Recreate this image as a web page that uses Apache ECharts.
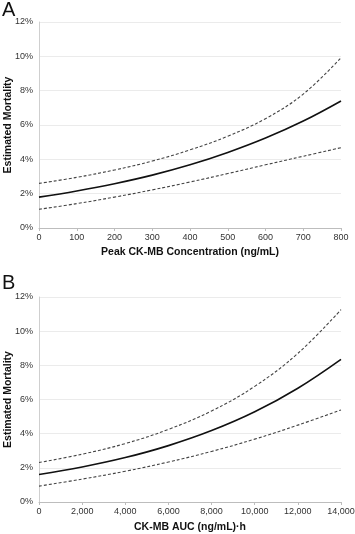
<!DOCTYPE html>
<html><head><meta charset="utf-8">
<script src="https://cdn.jsdelivr.net/npm/echarts@6/dist/echarts.min.js"></script>
<style>html,body{margin:0;padding:0;background:#fff}#c{width:355px;height:534px}</style>
</head><body><div id="c"></div>
<script>
// Panel A: Peak CK-MB concentration (ng/mL) vs estimated mortality (%)
const xA = [0, 100, 200, 300, 400, 500, 600, 700, 800];
const estA = [1.80, 2.16, 2.58, 3.08, 3.68, 4.40, 5.24, 6.23, 7.40];
const upA = [2.60, 2.95, 3.38, 3.90, 4.55, 5.35, 6.37, 7.80, 9.92];
const loA = [1.09, 1.42, 1.80, 2.22, 2.68, 3.17, 3.68, 4.18, 4.68];
// Panel B: CK-MB AUC (ng/mL)·h vs estimated mortality (%)
const xB = [0, 2000, 4000, 6000, 8000, 10000, 12000, 14000];
const estB = [1.61, 2.05, 2.60, 3.30, 4.18, 5.28, 6.66, 8.35];
const upB = [2.31, 2.80, 3.42, 4.25, 5.33, 6.77, 8.70, 11.26];
const loB = [0.93, 1.34, 1.80, 2.34, 2.96, 3.68, 4.50, 5.39];
const yTicks = [0, 2, 4, 6, 8, 10, 12];
const panelLabels = ['A', 'B'];
const xTitles = ['Peak CK-MB Concentration (ng/mL)', 'CK-MB AUC (ng/mL)·h'];
const yTitle = 'Estimated Mortality';

const font = 'Liberation Sans, Arial, sans-serif';
const pair = (xs, ys) => xs.map((x, i) => [x, ys[i]]);

const grids = [
  {left: 39, right: 14, top: 22, height: 206, outerBoundsMode: 'none', containLabel: false},
  {left: 39, right: 14, top: 297, height: 205, outerBoundsMode: 'none', containLabel: false}
];
function xAxis(idx, max, interval, fmt, gap) {
  return {
    type: 'value', gridIndex: idx, min: 0, max: max, interval: interval,
    name: xTitles[idx], nameLocation: 'middle', nameGap: gap,
    nameTextStyle: {fontFamily: font, fontSize: 10.5, fontWeight: 'bold', color: '#111'},
    axisLine: {lineStyle: {color: '#bdbdbd'}},
    axisTick: {show: true, length: 3, lineStyle: {color: '#bdbdbd'}},
    axisLabel: {fontFamily: font, fontSize: 9, color: '#333', margin: 5, formatter: fmt},
    splitLine: {show: false}
  };
}
function yAxis(idx) {
  return {
    type: 'value', gridIndex: idx, min: yTicks[0], max: yTicks[yTicks.length - 1], interval: 2,
    name: yTitle, nameLocation: 'middle', nameGap: 25, nameMoveOverlap: false,
    nameTextStyle: {fontFamily: font, fontSize: 10.5, fontWeight: 'bold', color: '#111'},
    axisLine: {show: true, lineStyle: {color: '#cfcfcf'}},
    axisTick: {show: false},
    axisLabel: {fontFamily: font, fontSize: 9, color: '#333', margin: 6, formatter: v => v + '%'},
    splitLine: {show: true, lineStyle: {color: '#ebebeb', width: 1}}
  };
}
function line(idx, xs, ys, dashed) {
  return {
    type: 'line', xAxisIndex: idx, yAxisIndex: idx, data: pair(xs, ys),
    smooth: 0.4, symbol: 'none', silent: true,
    lineStyle: dashed ? {color: '#444', width: 1.1, type: [3, 2]} : {color: '#111', width: 1.6}
  };
}
const chart = echarts.init(document.getElementById('c'), null, {renderer: 'canvas'});
chart.setOption({
  animation: false,
  backgroundColor: '#fff',
  grid: grids,
  xAxis: [
    xAxis(0, 800, 100, v => String(v), 19),
    xAxis(1, 14000, 2000, v => v.toLocaleString('en-US'), 20)
  ],
  yAxis: [yAxis(0), yAxis(1)],
  graphic: [
    {type: 'text', left: 2, top: 0, style: {text: panelLabels[0], font: '20px ' + font, fill: '#111'}},
    {type: 'text', left: 2, top: 273, style: {text: panelLabels[1], font: '20px ' + font, fill: '#111'}}
  ],
  series: [
    line(0, xA, upA, true), line(0, xA, loA, true), line(0, xA, estA, false),
    line(1, xB, upB, true), line(1, xB, loB, true), line(1, xB, estB, false)
  ]
});
</script></body></html>
